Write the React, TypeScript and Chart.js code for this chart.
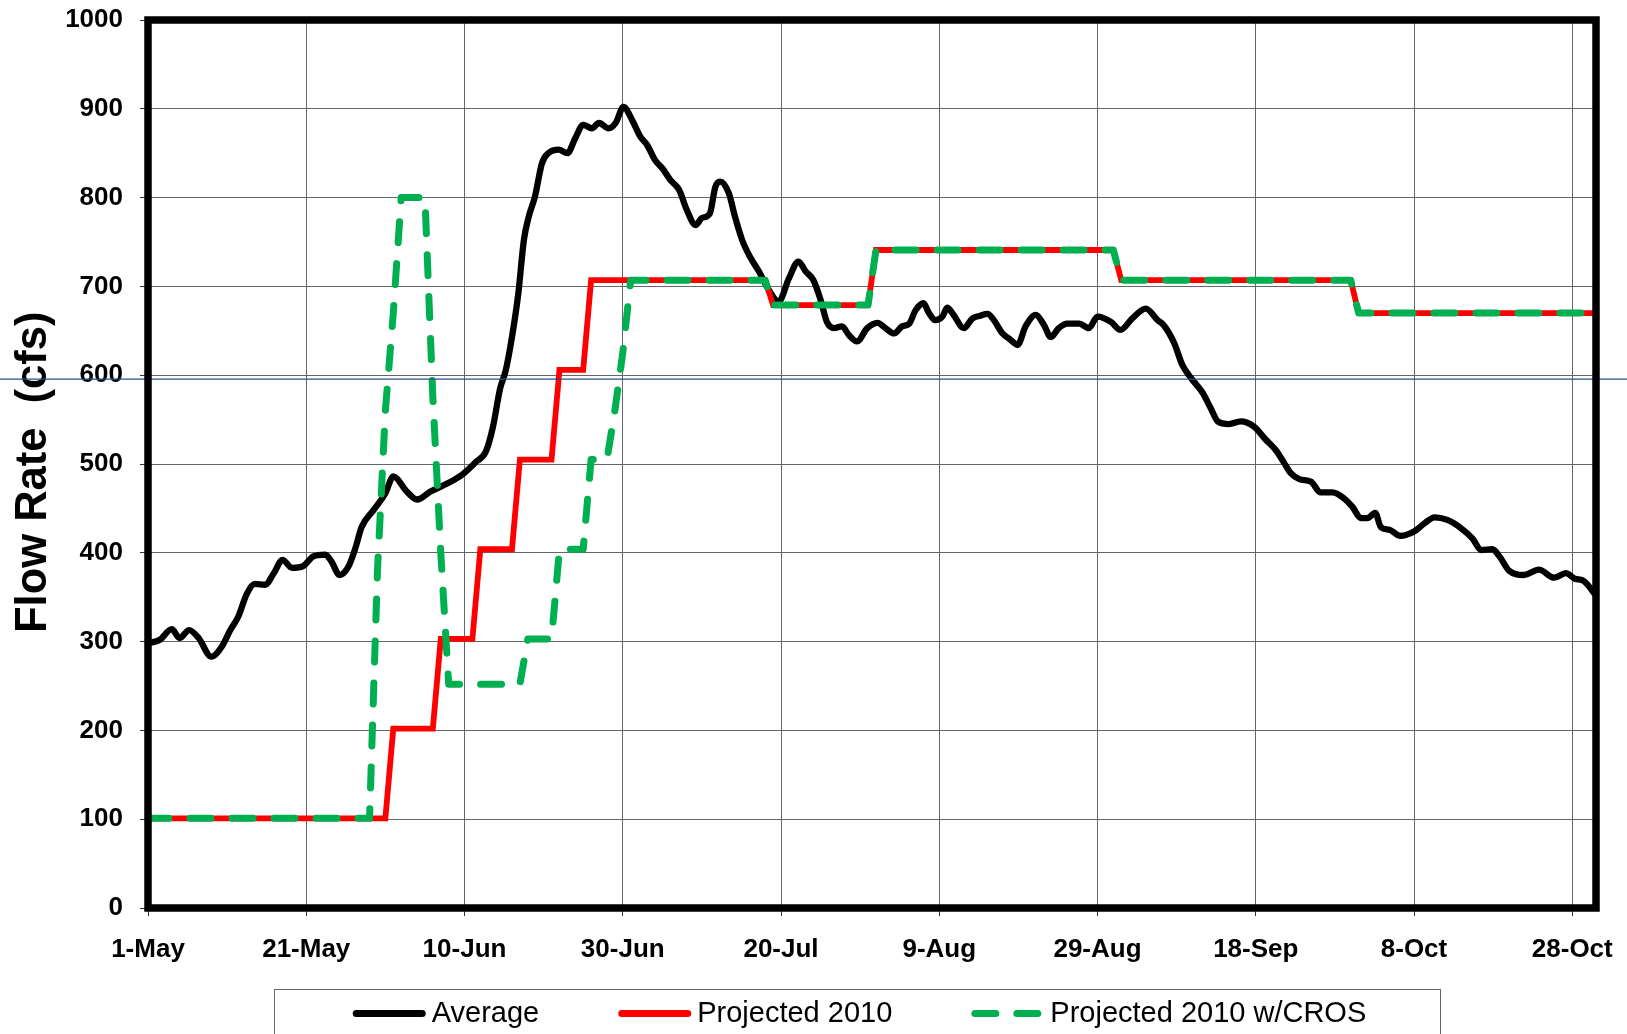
import { useEffect, useRef } from 'react';
import { Chart, registerables } from 'chart.js';

Chart.register(...registerables);

const FONT = '"Liberation Sans", Arial, Helvetica, sans-serif';

// x axis: days since 1-May
const tickDays = [0, 20, 40, 60, 80, 100, 120, 140, 160, 180];
const tickLabels = ['1-May', '21-May', '10-Jun', '30-Jun', '20-Jul', '9-Aug', '29-Aug', '18-Sep', '8-Oct', '28-Oct'];
const dayMin = 0;
const dayMax = 183;

const seriesLabels = ['Average', 'Projected 2010', 'Projected 2010 w/CROS'];
const yTitle = 'Flow Rate  (cfs)';
const referenceFlow = 595.5;

const averageDays = [
  0, 1.5, 3, 4, 5.2, 6.4, 8, 9.3, 10.4, 11.4,
  12.5, 13.5, 14.8, 15.9, 17, 18.2, 19.6, 20.9, 22.4, 23.2,
  24.2, 25.3, 26.2, 27, 28.5, 30, 31, 32.7, 34, 35.7,
  37.8, 39.7, 41.4, 42.7, 43.6, 44.5, 45.2, 46, 46.8, 47.5,
  48.1, 48.9, 49.8, 50.6, 51.9, 53, 54, 55, 56.1, 57,
  58.2, 59.1, 60.1, 61.2, 62.2, 63.1, 64.1, 65, 66, 67.1,
  68.1, 69.2, 70, 71, 71.7, 72.3, 73.4, 74.2, 75.1, 76.1,
  77.2, 78.2, 79.7, 81, 82.2, 83.1, 84.1, 85, 85.8, 86.7,
  87.7, 88.6, 89.6, 90.9, 92.2, 93.2, 94.3, 95.3, 96.2, 97,
  98, 98.7, 99.5, 100.4, 101, 101.8, 103.1, 104.2, 105.2, 106.1,
  106.9, 108, 109, 109.9, 110.9, 112.2, 113.2, 114.1, 115.1, 116.2,
  117.7, 118.9, 120, 121.7, 122.9, 124.4, 126.1, 127.6, 128.4, 129.7,
  130.7, 131.8, 133.3, 134.3, 135.2, 136.6, 138.1, 139.8, 141.1, 142.5,
  143.6, 144.4, 145.5, 147, 148.2, 149.7, 151.2, 152.2, 153.3, 154.1,
  155.1, 155.8, 156.9, 158.3, 160, 161.3, 162.6, 164.2, 165.9, 167.4,
  168.5, 169.9, 170.8, 172, 173.9, 175.8, 177.7, 179.2, 180.3, 181.5,
  183,
];
const averageFlow = [
  298, 302, 314, 304, 313, 304, 283, 294, 313, 328,
  354, 365, 364, 377, 392, 383, 385, 396, 398, 390,
  375, 384, 405, 429, 448, 467, 486, 469, 460, 469,
  478, 488, 502, 514, 542, 585, 605, 643, 692, 752,
  778, 801, 839, 850, 854, 850, 867, 882, 878, 884,
  878, 884, 902, 887, 869, 859, 842, 833, 820, 809,
  786, 769, 777, 782, 812, 818, 805, 778, 752, 733,
  717, 700, 683, 709, 728, 717, 707, 685, 660, 653,
  655, 645, 638, 653, 659, 653, 647, 655, 658, 673,
  681, 670, 662, 666, 676, 668, 653, 664, 667, 669,
  662, 647, 640, 634, 655, 668, 657, 643, 653, 658,
  658, 653, 666, 660, 651, 664, 675, 662, 656, 636,
  612, 597, 580, 563, 548, 545, 548, 542, 529, 516,
  501, 490, 483, 480, 468, 468, 461, 452, 439, 439,
  445, 429, 426, 419, 424, 433, 440, 437, 428, 416,
  403, 404, 396, 380, 375, 381, 372, 377, 371, 368,
  352,
];

const projectedDays = [0, 30, 31, 36, 37, 41, 42, 46, 47, 51, 52, 55, 56, 78, 79, 91, 92, 122, 123, 152, 153, 183];
const projectedFlow = [101, 101, 202, 202, 303, 303, 404, 404, 505, 505, 606, 606, 707, 707, 679, 679, 741, 741, 707, 707, 670, 670];

const crosDays = [0, 28, 29, 30, 31, 32, 35, 36, 37, 38, 47, 48, 51, 52, 55, 56, 58, 59, 60, 61, 78, 79, 91, 92, 122, 123, 152, 153, 183];
const crosFlow = [101, 101, 380, 560, 670, 800, 800, 575, 400, 252, 252, 303, 303, 404, 404, 505, 505, 560, 625, 707, 707, 679, 679, 741, 741, 707, 707, 670, 670];

const toPoints = (xs: number[], ys: number[]) => xs.map((x, i) => ({ x, y: ys[i] }));

const decorPlugin = {
  id: 'decor',
  afterDatasetsDraw(chart: any) {
    const { ctx, chartArea: a, scales } = chart;

    // y axis title
    ctx.save();
    ctx.translate(46, 633);
    ctx.rotate(-Math.PI / 2);
    ctx.font = `bold 43.5px ${FONT}`;
    ctx.fillStyle = '#000';
    ctx.textAlign = 'left';
    ctx.textBaseline = 'alphabetic';
    ctx.fillText(yTitle, 0, 0);
    ctx.restore();

    // thin blue reference line across the whole picture
    const yRef = scales.y.getPixelForValue(referenceFlow);
    ctx.save();
    ctx.strokeStyle = '#2B4C8C';
    ctx.lineWidth = 1.3;
    ctx.beginPath();
    ctx.moveTo(0, yRef);
    ctx.lineTo(chart.width, yRef);
    ctx.stroke();
    ctx.restore();

    // heavy frame around plot area
    ctx.save();
    ctx.strokeStyle = '#000';
    ctx.lineWidth = 7.5;
    ctx.lineJoin = 'miter';
    ctx.strokeRect(a.left, a.top, a.right - a.left, a.bottom - a.top);
    ctx.restore();

    // legend box
    const boxL = 274.5, boxR = 1440.5, boxT = 989.5;
    ctx.save();
    ctx.strokeStyle = '#666';
    ctx.lineWidth = 1;
    ctx.strokeRect(boxL, boxT, boxR - boxL, 100);
    ctx.font = `29px ${FONT}`;
    const sample = 73, gapText = 6, gapItem = 79;
    const dsets = chart.data.datasets;
    const widths = dsets.map((d: any) => ctx.measureText(d.label).width);
    const total = widths.reduce((s: number, w: number) => s + sample + gapText + w, 0) + gapItem * (dsets.length - 1);
    let x = (boxL + boxR) / 2 - total / 2 + 2;
    const lineY = 1013.6, textY = 1022;
    dsets.forEach((d: any, i: number) => {
      ctx.save();
      ctx.strokeStyle = d.borderColor;
      ctx.lineWidth = 7;
      ctx.lineCap = 'round';
      ctx.setLineDash(d.borderDash || []);
      ctx.beginPath();
      ctx.moveTo(x + 3.5, lineY);
      ctx.lineTo(x + sample - 3.5, lineY);
      ctx.stroke();
      ctx.restore();
      ctx.fillStyle = '#000';
      ctx.textAlign = 'left';
      ctx.textBaseline = 'alphabetic';
      ctx.fillText(d.label, x + sample + gapText, textY);
      x += sample + gapText + widths[i] + gapItem;
    });
    ctx.restore();
  },
};

export default function App() {
  const ref = useRef<HTMLCanvasElement>(null);
  useEffect(() => {
    document.body.style.margin = '0';
    Chart.defaults.font.family = FONT;
    const chart = new Chart(ref.current as HTMLCanvasElement, {
      type: 'line',
      data: {
        datasets: [
          {
            label: seriesLabels[0],
            data: toPoints(averageDays, averageFlow),
            borderColor: '#000000',
            borderWidth: 6.3,
            borderJoinStyle: 'round',
            borderCapStyle: 'round',
            cubicInterpolationMode: 'monotone',
            pointRadius: 0,
            order: 3,
          },
          {
            label: seriesLabels[1],
            data: toPoints(projectedDays, projectedFlow),
            borderColor: '#FF0000',
            borderWidth: 5.8,
            borderJoinStyle: 'miter',
            tension: 0,
            pointRadius: 0,
            order: 2,
          },
          {
            label: seriesLabels[2],
            data: toPoints(crosDays, crosFlow),
            borderColor: '#00B050',
            borderWidth: 7,
            borderDash: [21, 21],
            borderCapStyle: 'round',
            borderJoinStyle: 'round',
            tension: 0,
            pointRadius: 0,
            order: 1,
          },
        ],
      } as any,
      options: {
        responsive: false,
        devicePixelRatio: 1,
        animation: false,
        events: [],
        layout: { padding: { top: 20, right: 31, bottom: 0, left: 0 } },
        plugins: { legend: { display: false }, tooltip: { enabled: false }, title: { display: false } },
        scales: {
          x: {
            type: 'linear',
            min: dayMin,
            max: dayMax,
            border: { display: false },
            grid: { color: '#666', lineWidth: 1, drawTicks: true, tickLength: 8, tickColor: '#333' },
            afterBuildTicks: (s: any) => {
              s.ticks = tickDays.map((v) => ({ value: v }));
            },
            afterFit: (s: any) => {
              s.height = 126;
              s.paddingLeft = 0;
              s.paddingRight = 0;
            },
            ticks: {
              autoSkip: false,
              maxRotation: 0,
              padding: 18,
              color: '#000',
              font: { size: 26, weight: 'bold', family: FONT },
              callback: (v: any) => {
                const i = tickDays.indexOf(Number(v));
                return i >= 0 ? tickLabels[i] : '';
              },
            },
          },
          y: {
            type: 'linear',
            min: 0,
            max: 1000,
            border: { display: false },
            grid: { color: '#666', lineWidth: 1, drawTicks: true, tickLength: 8, tickColor: '#333' },
            afterFit: (s: any) => {
              s.width = 148;
              s.paddingTop = 0;
              s.paddingBottom = 0;
            },
            ticks: {
              stepSize: 100,
              padding: 17,
              color: '#000',
              font: { size: 26, weight: 'bold', family: FONT },
              callback: (v: any) => String(v),
            },
          },
        },
      } as any,
      plugins: [decorPlugin],
    });
    return () => chart.destroy();
  }, []);
  return (
    <canvas
      ref={ref}
      width={1627}
      height={1034}
      style={{ display: 'block', width: 1627, height: 1034 }}
    />
  );
}
